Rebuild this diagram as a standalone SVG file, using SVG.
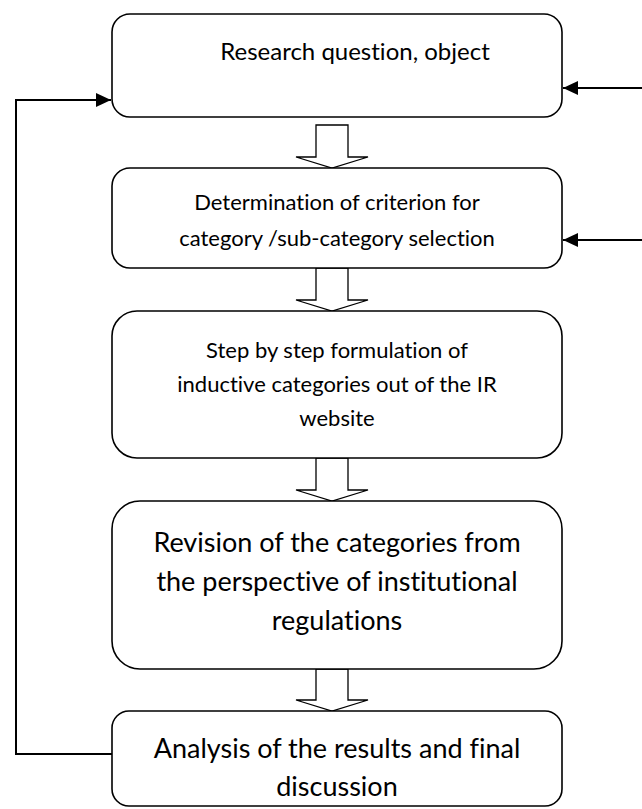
<svg xmlns="http://www.w3.org/2000/svg" width="642" height="809" viewBox="0 0 642 809">
<defs>
<style>
.box{fill:#fff;stroke:#000;stroke-width:1.6}
.blk{fill:#fff;stroke:#000;stroke-width:1.3}
.ln{fill:none;stroke:#000;stroke-width:2}
.t{font-family:Lato,"Open Sans","Liberation Sans",sans-serif;fill:#000;text-anchor:middle;font-variant-ligatures:none;font-feature-settings:"liga" 0,"dlig" 0}
.s1{font-size:24px}
.s2{font-size:22px}
.s3{font-size:27px}
</style>
<marker id="ah" markerUnits="userSpaceOnUse" markerWidth="16" markerHeight="14" refX="15" refY="7" orient="auto">
<path d="M0,0 L15,7 L0,14 Z" fill="#000"/>
</marker>
</defs>
<rect width="642" height="809" fill="#fff"/>
<g id="connectors">
<polygon class="blk" points="316,125 348,125 348,157 368,157 332,168 296,157 316,157"/>
<polygon class="blk" points="316,268 348,268 348,300 368,300 332,311 296,300 316,300"/>
<polygon class="blk" points="316,458 348,458 348,490 368,490 332,501 296,490 316,490"/>
<polygon class="blk" points="316,669 348,669 348,700 368,700 332,711 296,700 316,700"/>
<polyline class="ln" points="112,754 16,754 16,100 111,100" marker-end="url(#ah)"/>
<line class="ln" x1="642" y1="88" x2="563" y2="88" marker-end="url(#ah)"/>
<line class="ln" x1="642" y1="240" x2="563" y2="240" marker-end="url(#ah)"/>
</g>
<g id="n1">
<rect class="box" x="112" y="14" width="450" height="103" rx="18"/>
<text class="t s1" x="355" y="60">Research question, object</text>
</g>
<g id="n2">
<rect class="box" x="112" y="168" width="450" height="100" rx="18"/>
<text class="t s2" x="337" y="210">Determination of criterion for</text>
<text class="t s2" x="337" y="246">category /sub-category selection</text>
</g>
<g id="n3">
<rect class="box" x="112" y="311" width="450" height="147" rx="25"/>
<text class="t s2" x="337" y="358">Step by step formulation of</text>
<text class="t s2" x="337" y="392">inductive categories out of the IR</text>
<text class="t s2" x="337" y="426">website</text>
</g>
<g id="n4">
<rect class="box" x="112" y="501" width="450" height="168" rx="28"/>
<text class="t s3" x="337" y="552">Revision of the categories from</text>
<text class="t s3" x="337" y="591">the perspective of institutional</text>
<text class="t s3" x="337" y="630">regulations</text>
</g>
<g id="n5">
<rect class="box" x="112" y="711" width="450" height="95" rx="17"/>
<text class="t s3" x="337" y="758">Analysis of the results and final</text>
<text class="t s3" x="337" y="796">discussion</text>
</g>
</svg>
